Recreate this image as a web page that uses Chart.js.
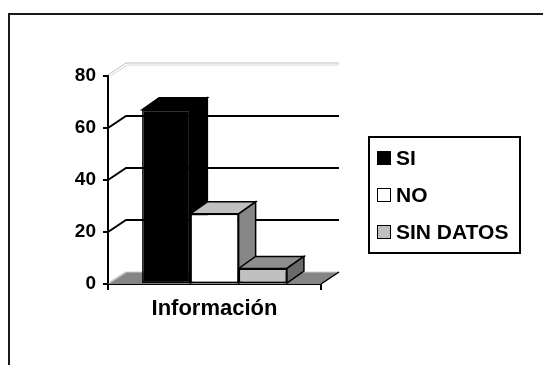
<!DOCTYPE html>
<html>
<head>
<meta charset="utf-8">
<style>
  html, body { margin: 0; padding: 0; background: #ffffff; }
  #wrap { position: relative; width: 543px; height: 365px; }
</style>
<script src="https://cdn.jsdelivr.net/npm/chart.js@4/dist/chart.umd.min.js"></script>
</head>
<body>
<div id="wrap"><canvas id="chart" width="543" height="365"></canvas></div>
<script>
// Categories, series and axis ticks
const categories = ['Información'];
const seriesNames = ['SI', 'NO', 'SIN DATOS'];
const siValues = [67];
const noValues = [27];
const sinDatosValues = [6];
const yTickValues = [0, 20, 40, 60, 80];

// Face shading for each series: front, top, side
const frontColors = ['#000000', '#ffffff', '#c0c0c0'];
const topColors = ['#000000', '#c0c0c0', '#8e8e8e'];
const sideColors = ['#000000', '#868686', '#6a6a6a'];

const FONT = '"Liberation Sans", Arial, sans-serif';

// Depth of the walls / floor and of the bars
const WALL_DX = 18, WALL_DY = 12;
const BAR_DX = 17, BAR_DY = 12;

function poly(ctx, pts, fill, stroke, lw) {
  ctx.beginPath();
  ctx.moveTo(pts[0][0], pts[0][1]);
  for (let i = 1; i < pts.length; i++) ctx.lineTo(pts[i][0], pts[i][1]);
  ctx.closePath();
  if (fill) { ctx.fillStyle = fill; ctx.fill(); }
  if (stroke) { ctx.strokeStyle = stroke; ctx.lineWidth = lw || 1; ctx.stroke(); }
}

function line(ctx, pts, color, lw) {
  ctx.beginPath();
  ctx.moveTo(pts[0][0], pts[0][1]);
  for (let i = 1; i < pts.length; i++) ctx.lineTo(pts[i][0], pts[i][1]);
  ctx.strokeStyle = color;
  ctx.lineWidth = lw;
  ctx.stroke();
}

// Floor, back wall gridlines and the depth faces of the bars
const depthPlugin = {
  id: 'depth',
  beforeDatasetsDraw(chart) {
    const { ctx, chartArea, scales } = chart;
    const { left, right, bottom } = chartArea;
    const y = scales.y;
    ctx.save();
    ctx.lineCap = 'butt';

    // floor
    poly(ctx, [[left, bottom], [right, bottom], [right + WALL_DX, bottom - WALL_DY], [left + WALL_DX, bottom - WALL_DY]], '#858585');
    line(ctx, [[left + WALL_DX, bottom - WALL_DY], [right + WALL_DX, bottom - WALL_DY]], '#d0d0d0', 1);
    line(ctx, [[left + 1, bottom - 1], [left + WALL_DX, bottom - WALL_DY]], '#c8c8c8', 1.5);
    line(ctx, [[right, bottom], [right + WALL_DX, bottom - WALL_DY]], '#000000', 1.5);

    // back wall gridlines with their side-wall diagonals
    yTickValues.forEach((v) => {
      if (v === yTickValues[0]) return;
      const py = y.getPixelForValue(v);
      if (v === yTickValues[yTickValues.length - 1]) {
        line(ctx, [[left, py - 1], [left + WALL_DX, py - WALL_DY - 1], [right + WALL_DX, py - WALL_DY - 1]], '#bdbdbd', 1);
        line(ctx, [[left + 1.5, py + 0.5], [left + WALL_DX + 1.5, py - WALL_DY + 1], [right + WALL_DX, py - WALL_DY + 1]], '#d6d6d6', 1);
      } else {
        line(ctx, [[left, py], [left + WALL_DX, py - WALL_DY], [right + WALL_DX, py - WALL_DY]], '#000000', 2);
      }
    });

    // top and side faces of each bar, left to right
    chart.data.datasets.forEach((ds, i) => {
      const meta = chart.getDatasetMeta(i);
      meta.data.forEach((el) => {
        const p = el.getProps(['x', 'y', 'base', 'width'], true);
        const l = p.x - p.width / 2, r = p.x + p.width / 2;
        const t = p.y, b = p.base;
        poly(ctx, [[l, t], [r, t], [r + BAR_DX, t - BAR_DY], [l + BAR_DX, t - BAR_DY]], topColors[i], '#000000', 1.5);
        poly(ctx, [[r, t], [r + BAR_DX, t - BAR_DY], [r + BAR_DX, b - BAR_DY], [r, b]], sideColors[i], '#000000', 1.5);
      });
    });
    ctx.restore();
  },
  afterDraw(chart) {
    const { ctx } = chart;
    ctx.save();
    // outer frame
    line(ctx, [[9, 365], [9, 14], [543, 14]], '#1a1a1a', 2);

    // legend box
    ctx.strokeStyle = '#000000';
    ctx.lineWidth = 2;
    ctx.strokeRect(369, 137, 151, 116);
    const rowY = [158, 195, 232];
    ctx.font = 'bold 21px ' + FONT;
    ctx.textBaseline = 'middle';
    ctx.textAlign = 'left';
    chart.data.datasets.forEach((ds, i) => {
      const cy = rowY[i];
      ctx.fillStyle = ds.backgroundColor;
      ctx.fillRect(377, cy - 7, 14, 14);
      ctx.strokeStyle = '#000000';
      ctx.lineWidth = 1;
      ctx.strokeRect(377.5, cy - 6.5, 13, 13);
      ctx.fillStyle = '#000000';
      ctx.fillText(ds.label, 396, cy + 1);
    });
    ctx.restore();
  }
};

const seriesValues = [siValues, noValues, sinDatosValues];

new Chart(document.getElementById('chart'), {
  type: 'bar',
  data: {
    labels: categories,
    datasets: seriesNames.map((name, i) => ({
      label: name,
      data: seriesValues[i],
      backgroundColor: frontColors[i],
      borderColor: '#000000',
      borderWidth: 1.5,
      borderSkipped: false,
      categoryPercentage: 0.68,
      barPercentage: 1.0
    }))
  },
  options: {
    responsive: false,
    animation: false,
    events: [],
    layout: { padding: { left: 0, right: 222, top: 76, bottom: 0 } },
    plugins: {
      legend: { display: false },
      tooltip: { enabled: false },
      title: { display: false }
    },
    scales: {
      x: {
        afterFit(scale) { scale.height = 81; },
        grid: { drawOnChartArea: false, drawTicks: true, tickLength: 6, color: '#000000', lineWidth: 2, offset: true },
        border: { display: true, color: '#000000', width: 2 },
        ticks: {
          color: '#000000',
          padding: 6,
          font: { family: FONT, size: 22, weight: 'bold' }
        }
      },
      y: {
        min: yTickValues[0],
        max: yTickValues[yTickValues.length - 1],
        afterFit(scale) { scale.width = 108; },
        afterBuildTicks(scale) { scale.ticks = yTickValues.map((v) => ({ value: v })); },
        grid: { drawOnChartArea: false, drawTicks: true, tickLength: 5, color: '#000000', lineWidth: 2 },
        border: { display: true, color: '#000000', width: 2 },
        ticks: {
          color: '#000000',
          padding: 7,
          font: { family: FONT, size: 19, weight: 'bold' }
        }
      }
    }
  },
  plugins: [depthPlugin]
});
</script>
</body>
</html>
